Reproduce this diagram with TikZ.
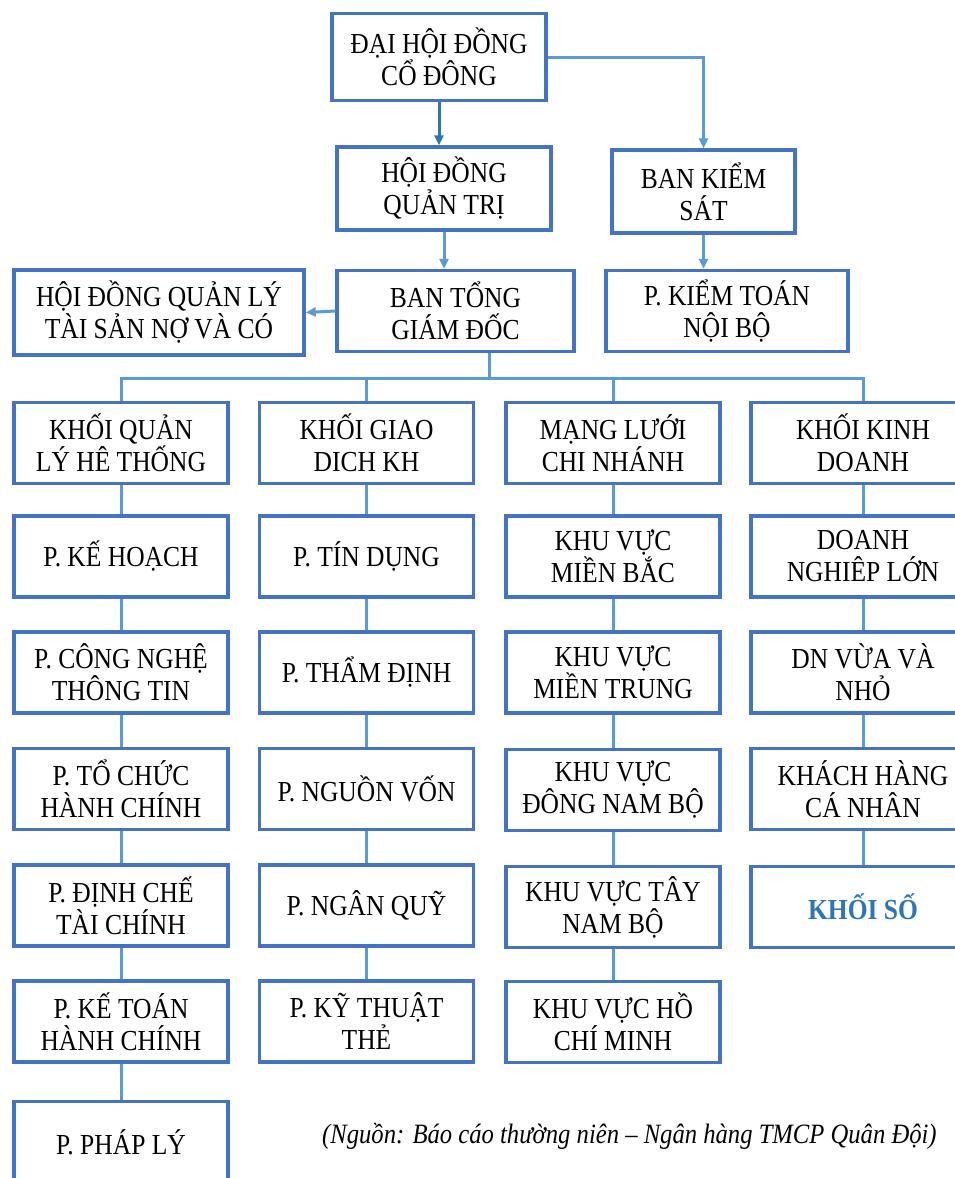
\documentclass[tikz,border=0pt]{standalone}
\usepackage{fontspec}
\setmainfont[FakeStretch=0.88]{Liberation Serif}
\usetikzlibrary{arrows.meta}
\definecolor{kasten}{HTML}{4472C4}
\definecolor{linie}{HTML}{5B9BD5}
\definecolor{pfeil}{HTML}{2E75B6}

\begin{document}
\begin{tikzpicture}[x=1pt,y=-1pt,
	box/.style={draw=kasten,line width=3.5pt,fill=white,align=center,inner sep=0pt,
		minimum height=81pt,font=\fontsize{29}{32}\selectfont},
	colbox/.style={box,minimum width=214pt},
	conn/.style={draw=linie,line width=3pt},
	pf/.style={conn,-{Triangle[length=10pt,width=9pt]}}]
	% Rahmen
	\fill[white] (0,0) rectangle (955,1178);
	\useasboundingbox (0,0) rectangle (955,1178);
	% Leitung oben
	\node[box,minimum width=214pt,minimum height=87pt] (dhdcd) at (439,57) {ĐẠI HỘI ĐỒNG\\CỔ ĐÔNG};
	\node[box,minimum width=214pt,minimum height=83pt] (hdqt) at (444,188.5) {HỘI ĐỒNG\\QUẢN TRỊ};
	\node[box,minimum width=183pt,minimum height=83pt] (bks) at (703.5,191.5) {BAN KIỂM\\SÁT};
	\node[box,minimum width=290pt,minimum height=85pt] (hdql) at (159,312.5) {HỘI ĐỒNG QUẢN LÝ\\TÀI SẢN NỢ VÀ CÓ};
	\node[box,minimum width=237pt] (btgd) at (455.5,311) {BAN TỔNG\\GIÁM ĐỐC};
	\node[box,minimum width=242pt] (ktnb) at (727,311) {P. KIỂM TOÁN\\NỘI BỘ};
	% Spalte 1
	\node[colbox] (a1) at (121,443) {KHỐI QUẢN\\LÝ HÊ THỐNG};
	\node[colbox] (a2) at (121,556.5) {P. KẾ HOẠCH};
	\node[colbox] (a3) at (121,672.5) {P. CÔNG NGHỆ\\THÔNG TIN};
	\node[colbox] (a4) at (121,789) {P. TỔ CHỨC\\HÀNH CHÍNH};
	\node[colbox] (a5) at (121,905.5) {P. ĐỊNH CHẾ\\TÀI CHÍNH};
	\node[colbox] (a6) at (121,1021.5) {P. KẾ TOÁN\\HÀNH CHÍNH};
	\node[colbox] (a7) at (121,1142) {P. PHÁP LÝ};
	% Spalte 2
	\node[colbox] (b1) at (366.5,443) {KHỐI GIAO\\DICH KH};
	\node[colbox] (b2) at (366.5,556.5) {P. TÍN DỤNG};
	\node[colbox] (b3) at (366.5,672.5) {P. THẨM ĐỊNH};
	\node[colbox] (b4) at (366.5,789) {P. NGUỒN VỐN};
	\node[colbox] (b5) at (366.5,905.5) {P. NGÂN QUỸ};
	\node[colbox] (b6) at (366.5,1021.5) {P. KỸ THUẬT\\THẺ};
	% Spalte 3
	\node[colbox] (c1) at (613,443) {MẠNG LƯỚI\\CHI NHÁNH};
	\node[colbox] (c2) at (613,556.5) {KHU VỰC\\MIỀN BẮC};
	\node[colbox] (c3) at (613,672.5) {KHU VỰC\\MIỀN TRUNG};
	\node[colbox] (c4) at (613,790) {KHU VỰC\\ĐÔNG NAM BỘ};
	\node[colbox] (c5) at (613,907) {KHU VỰC TÂY\\NAM BỘ};
	\node[colbox] (c6) at (613,1022) {KHU VỰC HỒ\\CHÍ MINH};
	% Spalte 4
	\node[box,minimum width=224pt] (d1) at (863,443) {KHỐI KINH\\DOANH};
	\node[box,minimum width=224pt] (d2) at (863,556.5) {DOANH\\NGHIÊP LỚN};
	\node[box,minimum width=224pt] (d3) at (863,672.5) {DN VỪA VÀ\\NHỎ};
	\node[box,minimum width=224pt] (d4) at (863,789) {KHÁCH HÀNG\\CÁ NHÂN};
	\node[box,minimum width=224pt,text=pfeil,font=\fontsize{29}{32}\selectfont\bfseries] (d5) at (863,907) {KHỐI SỐ};
	% Quelle
	\node[anchor=west,inner sep=0pt,font=\fontsize{28}{30}\selectfont\itshape] (quelle) at (322,1136)
		{(Nguồn: Báo cáo thường niên – Ngân hàng TMCP Quân Đội)};
	% Pfeile
	\draw[pf,draw=pfeil] (dhdcd.south) -- (dhdcd.south |- hdqt.north);
	\draw[pf] (dhdcd.east) -| (bks.north);
	\draw[pf] (hdqt.south) -- (hdqt.south |- btgd.north);
	\draw[pf] (bks.south) -- (bks.south |- ktnb.north);
	\draw[pf] (btgd.west) -- (hdql.east);
	% Verteiler
	\coordinate (bus) at (489,378);
	\draw[conn] (bus |- btgd.south) -- (bus);
	\foreach \k in {a1,b1,c1,d1}
		\draw[conn] (bus) -| (\k.north);
	% Linien in den Spalten
	\foreach \o/\u in {a1/a2,a2/a3,a3/a4,a4/a5,a5/a6,a6/a7,b1/b2,b2/b3,b3/b4,b4/b5,b5/b6,
		c1/c2,c2/c3,c3/c4,c4/c5,c5/c6,d1/d2,d2/d3,d3/d4,d4/d5}
		\draw[conn] (\o.south) -- (\u.north);
\end{tikzpicture}
\end{document}
